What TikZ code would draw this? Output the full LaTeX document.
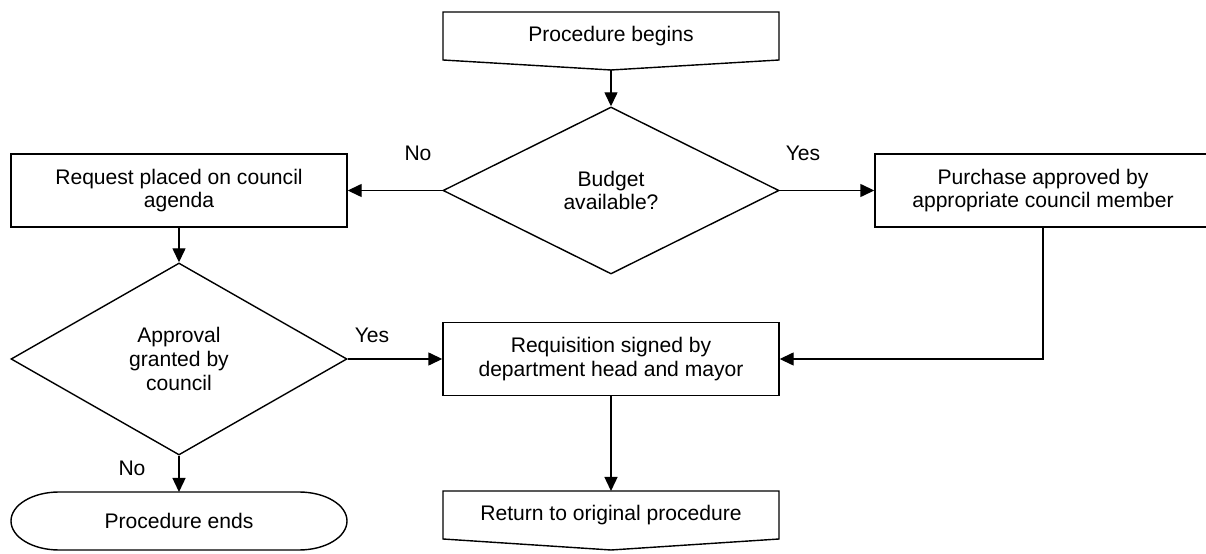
\documentclass[tikz,border=0pt]{standalone}
\usepackage{fontspec}
\setmainfont{Liberation Sans}
\usepackage{tikz}
\usetikzlibrary{arrows.meta}
\usetikzlibrary{calc}
\usetikzlibrary{shapes.geometric}

\begin{document}
\begin{tikzpicture}[
    font=\fontsize{12}{13.5}\selectfont,
    box/.style={rectangle, draw, line width=0.8pt, minimum width=6.72cm, minimum height=1.46cm, align=center, inner sep=0pt},
    decision/.style={diamond, draw, line width=0.8pt, minimum width=6.72cm, align=center, inner sep=0pt},
    flow/.style={-{Triangle[length=2.8mm, width=2.6mm]}, line width=0.8pt},
    outline/.style={line width=0.8pt, line join=miter}]

    % frame
    \useasboundingbox (0,0) rectangle (24.12,11.08);

    % terminals
    \begin{scope}[every node/.style={minimum width=6.72cm, align=center, inner sep=0pt, outer sep=0pt}]
        \node[minimum height=0.96cm] (begin) at (12.22,10.36) {Procedure begins};
        \node[minimum height=0.96cm] (return) at (12.22,0.78) {Return to original procedure};
        \node[minimum height=1.16cm] (ends) at (3.58,0.66) {Procedure ends};
    \end{scope}
    \coordinate (begintip) at ($(begin.south)+(0,-0.2)$);
    \coordinate (returntip) at ($(return.south)+(0,-0.22)$);
    \draw[outline] (begin.north west) -- (begin.north east) -- (begin.south east) -- (begintip) -- (begin.south west) -- cycle;
    \draw[outline] (return.north west) -- (return.north east) -- (return.south east) -- (returntip) -- (return.south west) -- cycle;
    \draw[outline] ($(ends.north west)+(0.96,0)$) -- ($(ends.north east)+(-0.96,0)$)
        arc[start angle=90, end angle=-90, x radius=0.96, y radius=0.58]
        -- ($(ends.south west)+(0.96,0)$)
        arc[start angle=270, end angle=90, x radius=0.96, y radius=0.58] -- cycle;

    % processes
    \begin{scope}[every node/.style={box}]
        \node (request) at (3.58,7.27) {Request placed on council\\agenda};
        \node (purchase) at (20.86,7.27) {Purchase approved by\\appropriate council member};
        \node (requisition) at (12.22,3.9) {Requisition signed by\\department head and mayor};
    \end{scope}

    % decisions
    \node[decision, minimum height=3.34cm] (budget) at (12.22,7.27) {Budget\\available?};
    \node[decision, minimum height=3.84cm] (approval) at (3.58,3.9) {Approval\\granted by\\council};

    % arrows
    \draw[flow] (begintip) -- (budget.north);
    \draw[flow] (budget.west) -- (request.east);
    \draw[flow] (budget.east) -- (purchase.west);
    \draw[flow] (request.south) -- (approval.north);
    \draw[flow] (approval.east) -- (requisition.west);
    \draw[flow] (approval.south) -- (ends.north);
    \draw[flow] (purchase.south) |- (requisition.east);
    \draw[flow] (requisition.south) -- (return.north);

    % answers
    \node (nobudget) at (8.36,8.02) {No};
    \node (yesbudget) at (16.06,8.02) {Yes};
    \node (yesapproval) at (7.44,4.38) {Yes};
    \node (noapproval) at (2.64,1.72) {No};

\end{tikzpicture}
\end{document}
